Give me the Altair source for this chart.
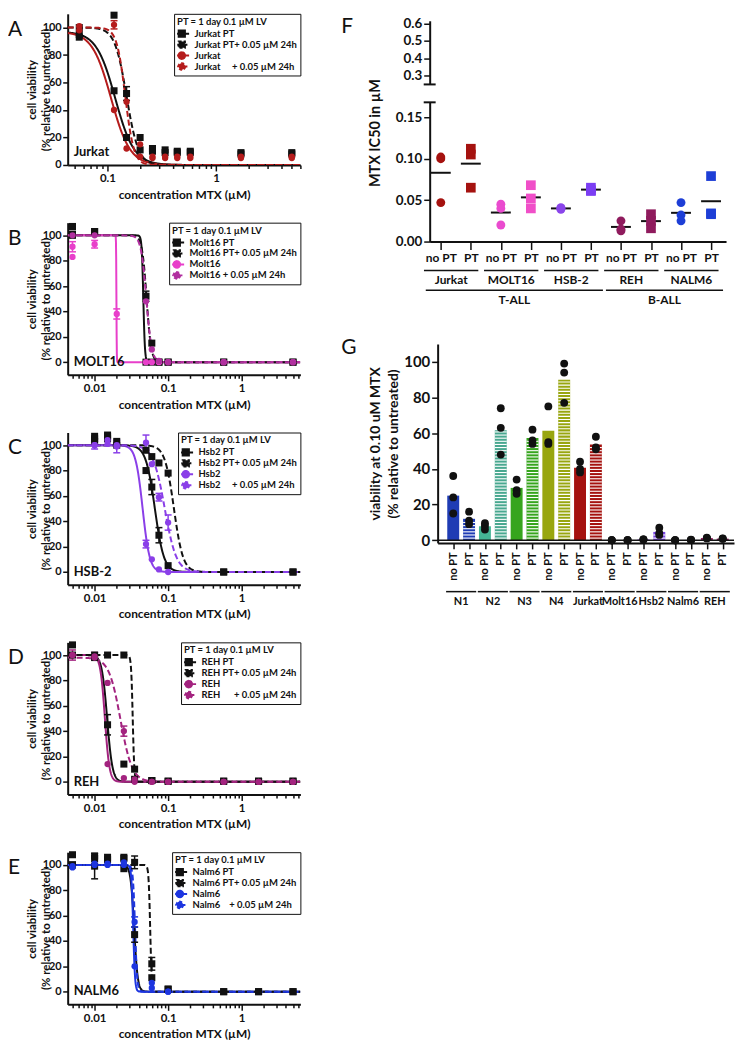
import json
import math
import numpy as np
import pandas as pd
import altair as alt

FONT = "Lato"
BK = "#111111"
NB = "\u00a0"

# ---------------- Panel A : Jurkat ----------------
A_NAMES = ["Jurkat PT", "Jurkat PT+ 0.05 µM 24h", "Jurkat", "Jurkat" + NB * 5 + "+ 0.05 µM 24h"]
A_COLORS = [BK, BK, "#b51c1c", "#b51c1c"]
A_S1_X = [0.055, 0.055, 0.115, 0.15, 0.2, 0.26, 0.34, 0.44, 0.58, 1.7, 5.0]
A_S1_Y = [95, 93, 54, 20, 11, 10, 9, 9, 9, 8, 8]
A_S1_E = [0, 0, 0, 0, 0, 0, 0, 0, 0, 0, 0]
A_S2_X = [0.055, 0.115, 0.15, 0.2, 0.26, 0.34, 0.44, 0.58, 1.7, 5.0]
A_S2_Y = [100, 109, 52, 20, 12, 11, 10, 10, 9, 9]
A_S2_E = [0, 0, 5, 0, 0, 0, 0, 0, 0, 0]
A_S3_X = [0.055, 0.115, 0.15, 0.2, 0.26, 0.34, 0.44, 0.58, 1.7, 5.0]
A_S3_Y = [98, 40, 12, 6, 5, 5, 5, 5, 5, 5]
A_S3_E = [0, 0, 0, 0, 0, 0, 0, 0, 0, 0]
A_S4_X = [0.055, 0.115, 0.15, 0.2, 0.26, 0.34, 0.44, 0.58, 1.7, 5.0]
A_S4_Y = [101, 102, 46, 15, 6, 6, 6, 6, 6, 6]
A_S4_E = [0, 3, 0, 0, 0, 0, 0, 0, 0, 0]
A_IC50 = [0.118, 0.15, 0.108, 0.146]
A_HILL = [5, 8, 5, 11]
A_TOP = [97, 100, 97, 100]

# ---------------- Panel B : MOLT16 ----------------
B_NAMES = ["Molt16 PT", "Molt16 PT+ 0.05 µM 24h", "Molt16", "Molt16 + 0.05 µM 24h"]
B_COLORS = [BK, BK, "#e83fca", "#b12f9f"]
B_S1_X = [0.005, 0.005, 0.01, 0.05, 0.06, 0.075, 0.1, 0.57, 5.0]
B_S1_Y = [100, 107, 103, 0, 0, 0, 0, 0, 0]
B_S1_E = [0, 0, 0, 0, 0, 0, 0, 0, 0]
B_S2_X = [0.005, 0.01, 0.05, 0.06, 0.075, 0.1, 0.57, 5.0]
B_S2_Y = [101, 103, 52, 15, 0, 0, 0, 0]
B_S2_E = [0, 0, 4, 0, 0, 0, 0, 0]
B_S3_X = [0.005, 0.005, 0.01, 0.02, 0.05, 0.06, 0.075, 0.1, 0.57, 5.0]
B_S3_Y = [91, 83, 93, 38, 0, 0, 0, 0, 0, 0]
B_S3_E = [4, 0, 3, 4, 0, 0, 0, 0, 0, 0]
B_S4_X = [0.005, 0.01, 0.05, 0.06, 0.075, 0.1, 0.57, 5.0]
B_S4_Y = [100, 100, 48, 10, 1, 0, 0, 0]
B_S4_E = [0, 0, 0, 0, 0, 0, 0, 0]
B_IC50 = [0.046, 0.051, 0.0198, 0.0505]
B_HILL = [40, 14, 200, 12]
B_TOP = [100, 100, 100, 100]

# ---------------- Panel C : HSB-2 ----------------
C_NAMES = ["Hsb2 PT", "Hsb2 PT+ 0.05 µM 24h", "Hsb2", "Hsb2" + NB * 5 + "+ 0.05 µM 24h"]
C_COLORS = [BK, BK, "#8a3fe8", "#8a3fe8"]
C_S1_X = [0.01, 0.01, 0.015, 0.015, 0.02, 0.05, 0.06, 0.075, 0.1, 0.57, 5.0]
C_S1_Y = [105, 107, 107, 105, 103, 80, 67, 29, 5, 0, 0]
C_S1_E = [0, 0, 0, 0, 0, 0, 6, 6, 0, 0, 0]
C_S2_X = [0.01, 0.015, 0.02, 0.05, 0.06, 0.075, 0.1, 0.57, 5.0]
C_S2_Y = [103, 108, 100, 96, 91, 86, 78, 0, 0]
C_S2_E = [0, 0, 0, 0, 0, 0, 0, 0, 0]
C_S3_X = [0.01, 0.015, 0.02, 0.05, 0.06, 0.075, 0.1]
C_S3_Y = [100, 101, 99, 22, 10, 2, 0]
C_S3_E = [3, 0, 5, 3, 0, 0, 0]
C_S4_X = [0.01, 0.015, 0.02, 0.05, 0.06, 0.075, 0.1]
C_S4_Y = [100, 104, 100, 102, 85, 59, 39]
C_S4_E = [0, 0, 0, 6, 0, 3, 6]
C_IC50 = [0.066, 0.12, 0.045, 0.09]
C_HILL = [7, 7, 9, 5.5]
C_TOP = [100, 100, 100, 100]

# ---------------- Panel D : REH ----------------
D_NAMES = ["REH PT", "REH PT+ 0.05 µM 24h", "REH", "REH" + NB * 6 + "+ 0.05 µM 24h"]
D_COLORS = [BK, BK, "#a3237f", "#a3237f"]
D_X = [0.005, 0.01, 0.015, 0.025, 0.035, 0.06, 0.1, 0.57, 1.7, 5.0]
D_S1_Y = [108, 98, 45, 14, 2, 1, 0.5, 0.5, 0.5, 0.5]
D_S1_E = [0, 0, 8, 0, 0, 0, 0, 0, 0, 0]
D_S2_Y = [100, 100, 100, 100, 10, 1, 0.5, 0.5, 0.5, 0.5]
D_S2_E = [0, 0, 0, 0, 0, 0, 0, 0, 0, 0]
D_S3_Y = [100, 99, 14, 3, 0, 0, 0, 0, 0, 0]
D_S3_E = [4, 3, 0, 0, 0, 0, 0, 0, 0, 0]
D_S4_Y = [100, 98, 78, 40, 2, 0, 0, 0, 0, 0]
D_S4_E = [0, 0, 0, 4, 0, 0, 0, 0, 0, 0]
D_IC50 = [0.0148, 0.033, 0.0138, 0.0225]
D_HILL = [12, 40, 14, 5.5]
D_TOP = [100, 100, 100, 98]

# ---------------- Panel E : NALM6 ----------------
E_NAMES = ["Nalm6 PT", "Nalm6 PT+ 0.05 µM 24h", "Nalm6", "Nalm6" + NB * 4 + "+ 0.05 µM 24h"]
E_COLORS = [BK, BK, "#1d35e0", "#1d35e0"]
E_S1_X = [0.005, 0.005, 0.01, 0.01, 0.015, 0.025, 0.025, 0.035, 0.06, 0.1, 0.57, 1.7, 5.0]
E_S1_Y = [100, 108, 105, 99, 106, 97, 106, 45, 11, 2, 0, 0, 0]
E_S1_E = [0, 0, 0, 10, 0, 0, 0, 6, 0, 0, 0, 0, 0]
E_S2_X = [0.005, 0.01, 0.015, 0.025, 0.035, 0.06, 0.1, 0.57, 1.7, 5.0]
E_S2_Y = [100, 107, 104, 105, 102, 22, 2, 0, 0, 0]
E_S2_E = [0, 0, 0, 0, 5, 5, 0, 0, 0, 0]
E_S3_X = [0.005, 0.01, 0.015, 0.025, 0.035, 0.06, 0.1]
E_S3_Y = [98, 100, 100, 100, 20, 3, 0]
E_S3_E = [0, 0, 0, 0, 0, 0, 0]
E_S4_Y = [99, 101, 101, 102, 55, 7, 0]
E_S4_E = [0, 0, 0, 0, 4, 0, 0]
E_IC50 = [0.0345, 0.057, 0.0335, 0.0355]
E_HILL = [18, 40, 35, 30]
E_TOP = [100, 100, 100, 100]

# ---------------- Panel F : IC50 ----------------
F_LINES = ["Jurkat", "MOLT16", "HSB-2", "REH", "NALM6"]
F_TYPES = ["T-ALL", "T-ALL", "T-ALL", "B-ALL", "B-ALL"]
F_NOPT = [[0.100, 0.102, 0.047], [0.045, 0.040, 0.020], [0.040, 0.041, 0.039],
          [0.025, 0.015, 0.013], [0.047, 0.032, 0.025]]
F_PT = [[0.112, 0.105, 0.065], [0.068, 0.052, 0.040], [0.062, 0.065, 0.061],
        [0.033, 0.025, 0.016], [0.079, 0.034, 0.033]]
F_COL_NOPT = ["#a5120f", "#ea4bcf", "#8a45ea", "#8f1b5d", "#1d3ed6"]
F_COL_PT = ["#a5120f", "#f04fc8", "#7b3ef3", "#8f1b5d", "#1d3ed6"]
F_TOP_TICKS = [0.3, 0.4, 0.5, 0.6]
F_BOT_TICKS = [0.0, 0.05, 0.10, 0.15]

# ---------------- Panel G : viability at 0.10 uM ----------------
G_LINES = ["N1", "N2", "N3", "N4", "Jurkat", "Molt16", "Hsb2", "Nalm6", "REH"]
G_NOPT = [[36, 24, 15], [9.5, 8, 6], [34, 28, 26], [75, 55, 54], [44, 40, 38],
          [0, 0, 0], [0.5, 0.5, 0.3], [0, 0, 0], [1.5, 1.2, 1.0]]
G_PT = [[16, 11, 9], [74, 63, 48], [62, 56, 54], [99, 94, 77], [58, 52, 51],
        [0, 0, 0], [7, 4, 3], [0.3, 0.2, 0], [1.0, 0.8, 0.9]]
G_COL_NOPT = ["#1f3cb4", "#45b595", "#36a51d", "#98a60f", "#a5120f", "#cc33bb", "#8a44e6", "#1d3ed6", "#8f1b5d"]
G_COL_PT = ["#1f3cb4", "#49a890", "#36a51d", "#98a60f", "#a5120f", "#cc33bb", "#7a45e6", "#1d3ed6", "#8f1b5d"]
G_TICKS = [0, 20, 40, 60, 80, 100]

# legend glyphs: a short line with a square or a (polygonal) round marker on it
SQ_PATH = "M-2.1,0H2.1M-0.9,-0.9H0.9V0.9H-0.9Z"
_ring = "L".join(f"{0.95 * math.cos(k * math.pi / 8):.3f},{0.95 * math.sin(k * math.pi / 8):.3f}" for k in range(16))
CI_PATH = "M-2.1,0H2.1M" + _ring + "Z"
SHAPES = [SQ_PATH, SQ_PATH, CI_PATH, CI_PATH]
DASHES = [[1, 0], [3, 2], [1, 0], [3, 2]]
CURVE_W = 234


def text_layer(txt, **mark):
    return alt.Chart(pd.DataFrame({"t": [txt]})).mark_text(color=BK, font=FONT, **mark)


def curve_panel(letter, cell, names, colors, series, ic50, hill, top, xdom, ydom, h, majors):
    rows = []
    for i, (xs, ys, es) in enumerate(series):
        for x, y, e in zip(xs, ys, es):
            rows.append({"series": names[i], "idx": i, "conc": x, "via": y, "err": e})
    pts = pd.DataFrame(rows)

    cand = [m * 10 ** p for p in range(-3, 1) for m in range(1, 10)]
    ticks = [t for t in cand if xdom[0] <= t <= xdom[1]]
    maj = json.dumps(majors)
    is_major = f"indexof({maj}, datum.value) >= 0"
    xaxis = alt.Axis(values=ticks, format="~g", labelExpr=f"{is_major} ? datum.label : ''",
                     tickSize={"condition": {"test": is_major, "value": 6}, "value": 3.5},
                     labelOverlap=False, labelFlush=False, labelFontSize=11.5, labelPadding=2,
                     title="concentration MTX (µM)", titleFontSize=12, titlePadding=5)
    xsc = alt.Scale(type="log", domain=xdom, nice=False)
    yaxis = alt.Axis(values=[0, 20, 40, 60, 80, 100], tickSize=5, labelPadding=1.5, labelFontSize=11,
                     title=["cell viability", "(% relative to untreated)"], titleFontSize=11.5,
                     titleLineHeight=14, titleX=-30)
    ysc = alt.Scale(domain=ydom, nice=False, zero=False)

    def X(f):
        return alt.X(f, scale=xsc, axis=xaxis)

    def Y(f):
        return alt.Y(f, scale=ysc, axis=yaxis)

    # reversed domain keeps this (legend-less) colour scale apart from the legend scales
    col = alt.Color("series:N", scale=alt.Scale(domain=names[::-1], range=colors[::-1]), legend=None)

    lo, hi = math.log10(xdom[0]), math.log10(xdom[1])
    calcs = {f"c{i}": f"{top[i]} / (1 + pow(datum.conc / {ic50[i]}, {hill[i]}))" for i in range(4)}
    curve = (alt.Chart(alt.sequence(lo, hi, 0.003, as_="t"))
             .transform_calculate(conc="pow(10, datum.t)")
             .transform_calculate(**calcs)
             .transform_fold(list(calcs), as_=["k", "via"])
             .transform_calculate(i="toNumber(substring(datum.k, 1))")
             .transform_calculate(series=f"{json.dumps(names, ensure_ascii=False)}[datum.i]"))
    solid = curve.transform_filter("datum.i % 2 == 0").mark_line(strokeWidth=2, clip=True).encode(
        x=X("conc:Q"), y=Y("via:Q"), color=col)
    dashed = curve.transform_filter("datum.i % 2 == 1").mark_line(strokeWidth=2, strokeDash=[6, 3], clip=True).encode(
        x=X("conc:Q"), y=Y("via:Q"), color=col)

    eb = (alt.Chart(pts).transform_filter("datum.err > 0")
          .transform_calculate(lo="datum.via - datum.err", hi="datum.via + datum.err"))
    err_rule = eb.mark_rule(strokeWidth=1.5).encode(x=X("conc:Q"), y=Y("lo:Q"), y2="hi:Q", color=col)
    err_cap = eb.transform_fold(["lo", "hi"], as_=["w", "cap"]).mark_tick(
        orient="horizontal", size=7, thickness=1.5, opacity=1).encode(x=X("conc:Q"), y=Y("cap:Q"), color=col)

    squares = alt.Chart(pts).transform_filter("datum.idx < 2").mark_square(size=50, opacity=1).encode(
        x=X("conc:Q"), y=Y("via:Q"), color=col)
    circles = alt.Chart(pts).transform_filter("datum.idx >= 2").mark_circle(size=40, opacity=1).encode(
        x=X("conc:Q"), y=Y("via:Q"), color=col)

    leg = alt.Legend(title="PT = 1 day 0.1 µM LV", orient="top-right", offset=0, padding=3,
                     strokeColor=BK, fillColor="white", titleFontSize=9.5, titleFontWeight="bold",
                     titleFont=FONT, titleColor=BK, labelFontSize=9.5, labelFontWeight="bold",
                     labelFont=FONT, labelColor=BK, symbolSize=49, symbolStrokeWidth=2,
                     symbolOpacity=1, rowPadding=0, labelOffset=8, titlePadding=2, labelLimit=220,
                     clipHeight=11, zindex=1)
    dummy = alt.Chart(pts).transform_filter("false").mark_point(filled=True, opacity=1, strokeWidth=2).encode(
        x=X("conc:Q"), y=Y("via:Q"),
        fill=alt.Fill("series:N", scale=alt.Scale(domain=names, range=colors), legend=leg),
        stroke=alt.Stroke("series:N", scale=alt.Scale(domain=names, range=colors), legend=leg),
        shape=alt.Shape("series:N", scale=alt.Scale(domain=names, range=SHAPES), legend=leg),
        strokeDash=alt.StrokeDash("series:N", scale=alt.Scale(domain=names, range=DASHES), legend=leg))

    cell_txt = text_layer(cell, align="left", baseline="bottom", fontSize=13, fontWeight="bold").encode(
        text="t:N", x=alt.value(6), y=alt.value(h - 6))
    letter_txt = text_layer(letter, align="left", baseline="top", fontSize=21).encode(
        text="t:N", x=alt.value(-60), y=alt.value(5))

    return alt.layer(solid, dashed, err_rule, err_cap, squares, circles, dummy, cell_txt, letter_txt).properties(
        width=CURVE_W, height=h)


XDOM = [0.0043, 6.3]
panel_a = curve_panel("A", "Jurkat", A_NAMES, A_COLORS,
                      [(A_S1_X, A_S1_Y, A_S1_E), (A_S2_X, A_S2_Y, A_S2_E), (A_S3_X, A_S3_Y, A_S3_E), (A_S4_X, A_S4_Y, A_S4_E)],
                      A_IC50, A_HILL, A_TOP, [0.043, 6.0], [0, 110], 152, [0.1, 1])
panel_b = curve_panel("B", "MOLT16", B_NAMES, B_COLORS,
                      [(B_S1_X, B_S1_Y, B_S1_E), (B_S2_X, B_S2_Y, B_S2_E), (B_S3_X, B_S3_Y, B_S3_E), (B_S4_X, B_S4_Y, B_S4_E)],
                      B_IC50, B_HILL, B_TOP, XDOM, [-10, 110], 153, [0.01, 0.1, 1])
panel_c = curve_panel("C", "HSB-2", C_NAMES, C_COLORS,
                      [(C_S1_X, C_S1_Y, C_S1_E), (C_S2_X, C_S2_Y, C_S2_E), (C_S3_X, C_S3_Y, C_S3_E), (C_S4_X, C_S4_Y, C_S4_E)],
                      C_IC50, C_HILL, C_TOP, XDOM, [-10, 110], 153, [0.01, 0.1, 1])
panel_d = curve_panel("D", "REH", D_NAMES, D_COLORS,
                      [(D_X, D_S1_Y, D_S1_E), (D_X, D_S2_Y, D_S2_E), (D_X, D_S3_Y, D_S3_E), (D_X, D_S4_Y, D_S4_E)],
                      D_IC50, D_HILL, D_TOP, XDOM, [-10, 110], 153, [0.01, 0.1, 1])
panel_e = curve_panel("E", "NALM6", E_NAMES, E_COLORS,
                      [(E_S1_X, E_S1_Y, E_S1_E), (E_S2_X, E_S2_Y, E_S2_E), (E_S3_X, E_S3_Y, E_S3_E), (E_S3_X, E_S4_Y, E_S4_E)],
                      E_IC50, E_HILL, E_TOP, XDOM, [-10, 110], 153, [0.01, 0.1, 1])

# ---------------- build F ----------------
F_W, F_TOP_H, F_BOT_H = 298, 64, 140
frows = []
for i, line in enumerate(F_LINES):
    for j, (cond, vals) in enumerate([("no PT", F_NOPT[i]), ("PT", F_PT[i])]):
        for v in vals:
            frows.append({"line": line, "type": F_TYPES[i], "cond": cond, "pos": 2 * i + j,
                          "key": f"{line}|{cond}", "v": v})
fdf = pd.DataFrame(frows)
f_keys = [f"{l}|{c}" for l in F_LINES for c in ("no PT", "PT")]
f_cols = [c for pair in zip(F_COL_NOPT, F_COL_PT) for c in pair]

f_grp = fdf.groupby("line", sort=False)["pos"].agg(["min", "max"]).reset_index()
f_grp["start"] = f_grp["min"] - 0.56
f_grp["end"] = f_grp["max"] + 0.25
f_grp["mid"] = (f_grp["start"] + f_grp["end"]) / 2
f_sup = fdf.groupby("type", sort=False)["pos"].agg(["min", "max"]).reset_index()
f_sup["start"] = f_sup["min"] - 0.5
f_sup["end"] = f_sup["max"] + 0.4
f_sup["mid"] = (f_sup["start"] + f_sup["end"]) / 2

fxs = alt.Scale(domain=[-0.37, 9.5], nice=False, zero=False)
fxaxis = alt.Axis(values=list(range(10)), labelExpr="datum.value % 2 == 0 ? 'no PT' : 'PT'",
                  tickSize=8, labelPadding=3, labelFontSize=12, title=None, labelFlush=False,
                  labelOverlap=False)
fys = alt.Scale(domain=[0, 0.168], nice=False, zero=False)
fyaxis = alt.Axis(values=F_BOT_TICKS, format=".2f", tickSize=6, labelFontSize=13.5, labelPadding=2, title=None)


def FX(f):
    return alt.X(f, scale=fxs, axis=fxaxis)


def FY(f):
    return alt.Y(f, scale=fys, axis=fyaxis)


fcol = alt.Color("key:N", scale=alt.Scale(domain=f_keys, range=f_cols), legend=None)
f_mean = alt.Chart(fdf).transform_aggregate(m="mean(v)", groupby=["pos"]).mark_tick(
    orient="horizontal", size=20, thickness=2, color=BK, opacity=1).encode(x=FX("pos:Q"), y=FY("m:Q"))
f_circ = alt.Chart(fdf).transform_filter("datum.cond == 'no PT'").mark_circle(size=80, opacity=1).encode(
    x=FX("pos:Q"), y=FY("v:Q"), color=fcol)
f_sq = alt.Chart(fdf).transform_filter("datum.cond == 'PT'").mark_square(size=95, opacity=1).encode(
    x=FX("pos:Q"), y=FY("v:Q"), color=fcol)
f_gline = alt.Chart(f_grp).mark_rule(strokeWidth=1.5, color=BK).encode(
    x=FX("start:Q"), x2="end:Q", y=alt.value(F_BOT_H + 29))
f_gtext = alt.Chart(f_grp).mark_text(fontSize=12, fontWeight="bold", color=BK, font=FONT).encode(
    x=FX("mid:Q"), text="line:N", y=alt.value(F_BOT_H + 39))
f_sline = alt.Chart(f_sup).mark_rule(strokeWidth=1.5, color=BK).encode(
    x=FX("start:Q"), x2="end:Q", y=alt.value(F_BOT_H + 49))
f_stext = alt.Chart(f_sup).mark_text(fontSize=12, fontWeight="bold", color=BK, font=FONT).encode(
    x=FX("mid:Q"), text="type:N", y=alt.value(F_BOT_H + 59))
f_title = text_layer("MTX IC50 in µM", angle=270, fontSize=14.5, fontWeight="bold").encode(
    text="t:N", x=alt.value(-54), y=alt.value(31))
f_cap_b = alt.Chart(pd.DataFrame({"c": [0.168]})).mark_rule(strokeWidth=2, color=BK).encode(
    y=FY("c:Q"), x=alt.value(-6), x2=alt.value(6))
panel_f_bot = alt.layer(f_mean, f_circ, f_sq, f_gline, f_gtext, f_sline, f_stext, f_title, f_cap_b).properties(
    width=F_W, height=F_BOT_H)

ftys = alt.Scale(domain=[0.248, 0.617], nice=False, zero=False)
ftyaxis = alt.Axis(values=F_TOP_TICKS, format=".1f", tickSize=6, labelFontSize=13.5, labelPadding=2, title=None)
ft_axis = alt.Chart(pd.DataFrame({"v": F_TOP_TICKS})).mark_point(opacity=0, size=0).encode(
    y=alt.Y("v:Q", scale=ftys, axis=ftyaxis))
ft_cap = alt.Chart(pd.DataFrame({"v": [0.248]})).mark_rule(strokeWidth=2, color=BK).encode(
    y=alt.Y("v:Q", scale=ftys, axis=ftyaxis), x=alt.value(-6), x2=alt.value(6))
ft_letter = text_layer("F", align="left", baseline="top", fontSize=21).encode(
    text="t:N", x=alt.value(-89), y=alt.value(-5))
panel_f_top = alt.layer(ft_axis, ft_cap, ft_letter).properties(width=F_W, height=F_TOP_H)

# ---------------- build G ----------------
G_W, G_H = 298, 200
grows = []
for i, line in enumerate(G_LINES):
    for j, (cond, vals) in enumerate([("no PT", G_NOPT[i]), ("PT", G_PT[i])]):
        for v in vals:
            grows.append({"line": line, "cond": cond, "pos": 2 * i + j, "key": f"{line}|{cond}", "v": v})
gdf = pd.DataFrame(grows)
g_keys = [f"{l}|{c}" for l in G_LINES for c in ("no PT", "PT")]
g_cols = [c for pair in zip(G_COL_NOPT, G_COL_PT) for c in pair]

g_means = gdf.groupby(["pos", "cond"], sort=False)["v"].mean().reset_index()
srows = []
for _, r in g_means[g_means["cond"] == "PT"].iterrows():
    for lev in np.arange(1.2, r["v"] - 0.6, 1.75):
        srows.append({"pos": r["pos"], "lev": lev})
sdf = pd.DataFrame(srows)

g_grp = gdf.groupby("line", sort=False)["pos"].agg(["min", "max"]).reset_index()
g_grp["start"] = g_grp["min"] - 0.45
g_grp["end"] = g_grp["max"] + 0.45
g_grp["mid"] = (g_grp["start"] + g_grp["end"]) / 2

gxs = alt.Scale(domain=[-0.67, 17.4], nice=False, zero=False)
gxaxis = alt.Axis(values=list(range(18)), labelExpr="datum.value % 2 == 0 ? 'no PT' : 'PT'",
                  labelAngle=270, tickSize=6, labelPadding=3, labelFontSize=11, title=None,
                  labelFlush=False, labelOverlap=False)
gys = alt.Scale(domain=[-1.5, 110], nice=False, zero=False)
gyaxis = alt.Axis(values=G_TICKS, tickSize=6, labelFontSize=15, labelPadding=2,
                  title=["viability at 0.10 uM MTX", "(% relative to untreated)"],
                  titleFontSize=14, titleLineHeight=18, titleX=-55)


def GX(f):
    return alt.X(f, scale=gxs, axis=gxaxis)


def GY(f):
    return alt.Y(f, scale=gys, axis=gyaxis)


g_bar = alt.Chart(gdf).transform_aggregate(m="mean(v)", groupby=["pos", "key"]).mark_bar(width=12).encode(
    x=GX("pos:Q"), y=GY("m:Q"),
    color=alt.Color("key:N", scale=alt.Scale(domain=g_keys, range=g_cols), legend=None))
g_stripe = alt.Chart(sdf).mark_tick(orient="horizontal", size=12, thickness=1.1, color="white", opacity=1).encode(
    x=GX("pos:Q"), y=GY("lev:Q"))
g_zero = alt.Chart(pd.DataFrame({"z": [0]})).mark_rule(strokeWidth=1.5, color=BK).encode(
    y=GY("z:Q"), x=alt.value(0), x2=alt.value(G_W))
g_dots = alt.Chart(gdf).mark_circle(size=62, color=BK, opacity=1).encode(x=GX("pos:Q"), y=GY("v:Q"))
g_gline = alt.Chart(g_grp).mark_rule(strokeWidth=1.5, color=BK).encode(
    x=GX("start:Q"), x2="end:Q", y=alt.value(G_H + 49))
g_gtext = alt.Chart(g_grp).mark_text(fontSize=11, fontWeight="bold", color=BK, font=FONT).encode(
    x=GX("mid:Q"), text="line:N", y=alt.value(G_H + 59))
g_letter = text_layer("G", align="left", baseline="top", fontSize=21).encode(
    text="t:N", x=alt.value(-97), y=alt.value(-7))
panel_g = alt.layer(g_bar, g_stripe, g_zero, g_dots, g_gline, g_gtext, g_letter).properties(width=G_W, height=G_H)

# ---------------- layout ----------------
INDEP = dict(color="independent", fill="independent", stroke="independent",
             shape="independent", strokeDash="independent")


def spacer(w, h):
    return alt.Chart(pd.DataFrame({"s": [0]})).mark_point(opacity=0, size=0).encode(
        x=alt.value(0), y=alt.value(0)).properties(width=w, height=h)


left = alt.vconcat(panel_a, panel_b, panel_c, panel_d, panel_e, spacing=58, bounds="flush").resolve_scale(**INDEP)
g_row = alt.hconcat(spacer(1, 1), panel_g, spacing=7, bounds="flush").resolve_scale(**INDEP)
right_inner = alt.vconcat(panel_f_top, panel_f_bot, spacer(1, 67), g_row, spacing=18,
                          bounds="flush").resolve_scale(**INDEP)
right = alt.vconcat(spacer(1, 1), right_inner, spacing=6, bounds="flush").resolve_scale(**INDEP)

# nested column groups count with zero size in a flush layout, so the spacing is the
# full distance from the left column's plot edge to the right column's plot edge
chart = (alt.hconcat(left, right, spacing=364, bounds="flush")
         .resolve_scale(**INDEP)
         .properties(padding=0)
         .configure(font=FONT)
         .configure_view(stroke=None)
         .configure_axis(grid=False, domainColor=BK, tickColor=BK, labelColor=BK, titleColor=BK,
                         labelFont=FONT, titleFont=FONT, labelFontWeight="bold", titleFontWeight="bold",
                         domainWidth=2, tickWidth=1.5)
         .configure_text(font=FONT))

chart.save("out.html", embed_options={"renderer": "svg", "actions": False})
